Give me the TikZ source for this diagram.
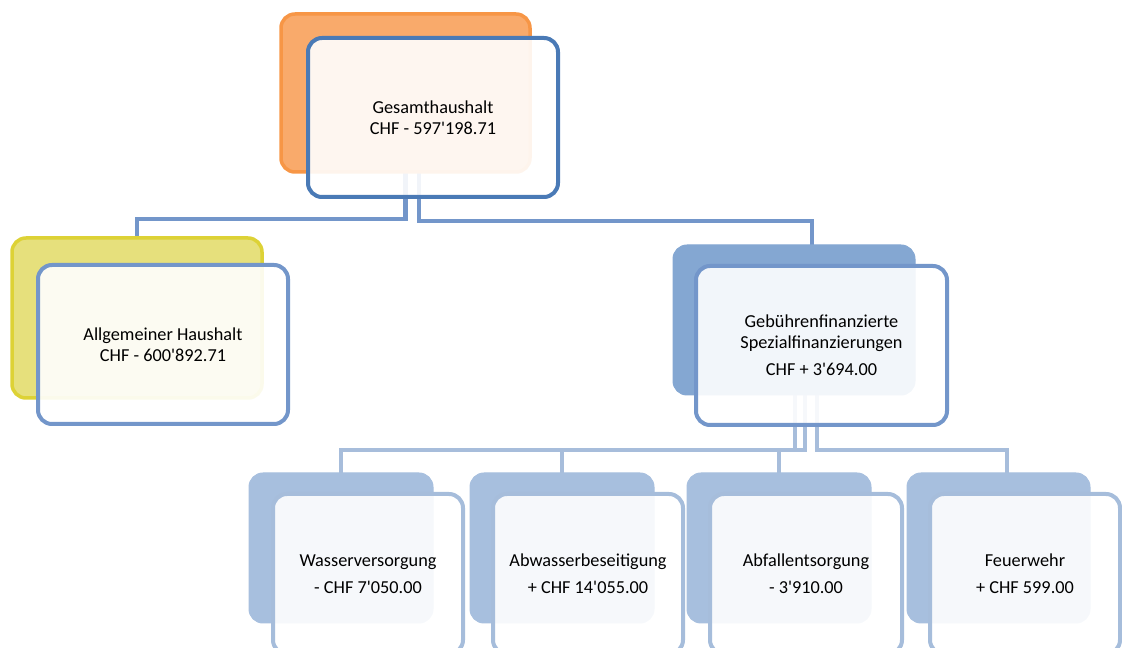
\documentclass[tikz,border=0pt]{standalone}
\usepackage{fontspec}
\setmainfont{Carlito}[Ligatures=TeXOff]
\usetikzlibrary{calc,backgrounds}
\newlength\pxu \setlength\pxu{0.75pt}
\definecolor{orfill}{HTML}{F9AA6B}
\definecolor{ordraw}{HTML}{F79646}
\definecolor{yefill}{HTML}{E6E07C}
\definecolor{yedraw}{HTML}{DDD236}
\definecolor{gbfill}{HTML}{84A7D2}
\definecolor{btfill}{HTML}{A7BFDE}
\definecolor{gborder}{HTML}{4A7AB6}
\definecolor{midborder}{HTML}{7396CA}
\definecolor{lowborder}{HTML}{A6BDDB}
\definecolor{connA}{HTML}{7396CA}
\definecolor{connB}{HTML}{A7BDDB}
\begin{document}
\begin{tikzpicture}[x=0.75pt,y=-0.75pt,
  box/.style={rectangle,inner sep=0pt,outer sep=0pt,rounded corners=14\pxu},
  orangeback/.style={box,fill=orfill,draw=ordraw,line width=3.5\pxu,minimum width=249\pxu,minimum height=158\pxu},
  yellowback/.style={box,fill=yefill,draw=yedraw,line width=3.5\pxu,minimum width=250\pxu,minimum height=160\pxu},
  blueback/.style={box,fill=gbfill,draw=gbfill,line width=1\pxu,minimum width=242\pxu,minimum height=150\pxu},
  lowback/.style={box,fill=btfill,draw=btfill,line width=1\pxu,minimum width=184\pxu,minimum height=150\pxu},
  frontbox/.style={box,fill=white,fill opacity=0.9,text opacity=1,line width=4\pxu,align=center,
    font=\fontsize{13.7}{15.5}\selectfont},
  bigfront/.style={frontbox,minimum width=250\pxu,minimum height=159\pxu},
  lowfront/.style={frontbox,draw=lowborder,minimum width=190\pxu,minimum height=160\pxu},
  connup/.style={draw=connA,line width=4.5\pxu},
  connlow/.style={draw=connB,line width=4.5\pxu},
]
\useasboundingbox (0,0) rectangle (1122,648);

% level 0
\node[orangeback] (gback) at (405.5,93) {};
\node[bigfront,draw=gborder] (gfront) at (433,117.5) {Gesamthaushalt\\CHF - 597'198.71};

% level 1
\node[yellowback] (aback) at (137,318) {};
\node[bigfront,draw=midborder] (afront) at (163,344.5) {Allgemeiner Haushalt\\CHF - 600'892.71};

\node[blueback] (bback) at (794,320) {};
\node[bigfront,draw=midborder,minimum width=251\pxu] (bfront) at (821.5,345.5)
  {Gebührenfinanzierte\\Spezialfinanzierungen\\[5pt]CHF + 3'694.00};

% level 2
\node[lowback] (wback) at (341,548) {};
\node[lowfront] (wfront) at (368,574) {Wasserversorgung\\[5pt]- CHF 7'050.00};

\node[lowback] (awback) at (562,548) {};
\node[lowfront] (awfront) at (588,574) {Abwasserbeseitigung\\[5pt]+ CHF 14'055.00};

\node[lowback] (afback) at (779,548) {};
\node[lowfront,minimum width=192\pxu] (affront) at (806,574) {Abfallentsorgung\\[5pt]- 3'910.00};

\node[lowback,minimum width=183\pxu] (fback) at (998.5,548) {};
\node[lowfront] (ffront) at (1025,574) {Feuerwehr\\[5pt]+ CHF 599.00};

% connectors
\begin{scope}[on background layer]
  \draw[connup] (gback.south) -- ++(0,47) -| (aback.north);
  \draw[connup] ($(gback.south)+(13.5,0)$) -- ++(0,49) -| ($(bback.north)+(18,0)$);
  \draw[connlow] ($(bback.south)+(1,0)$) -- ++(0,55) -| (wback.north);
  \draw[connlow] ($(bback.south)+(11,0)$) -- ++(0,55) -| (awback.north);
  \draw[connlow] ($(bback.south)+(1,0)$) -- ++(0,55) -| (afback.north);
  \draw[connlow] ($(bback.south)+(23,0)$) -- ++(0,55) -| ($(fback.north)+(8.5,0)$);
\end{scope}
\end{tikzpicture}
\end{document}
